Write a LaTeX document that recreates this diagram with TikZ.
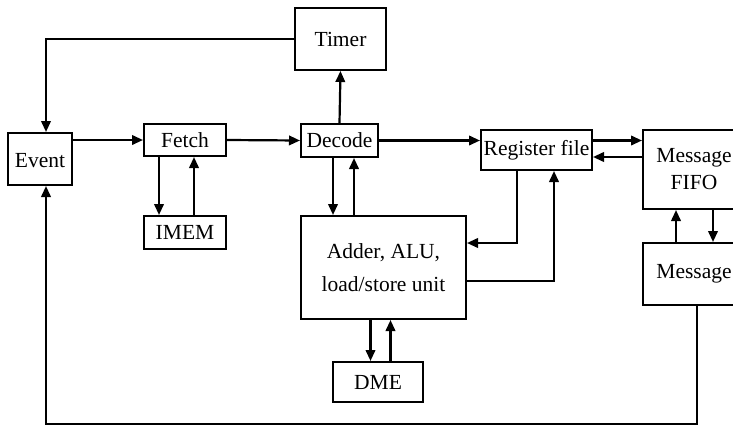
\documentclass[tikz,border=0pt]{standalone}
\usepackage{fontspec}
\setmainfont{Liberation Serif}
\usetikzlibrary{arrows.meta}
\tikzset{
  blk/.style={draw, line width=2pt, inner sep=0pt, align=center,
    font=\fontsize{21.5}{26}\selectfont},
  arr/.style={line width=2.2pt, -{Triangle[length=11pt,width=9.5pt]}},
  wire/.style={line width=2.2pt}
}
\begin{document}
\begin{tikzpicture}[x=1pt,y=-1pt]
\clip (0,0) rectangle (733,426);
\fill[white] (0,0) rectangle (733,426);

% blocks
\node[blk, minimum width=91pt, minimum height=62pt] (timer) at (340.5,39) {Timer};
\node[blk, minimum width=64pt, minimum height=52pt, text depth=0pt] (event) at (40,159) {\raisebox{-3pt}{Event}};
\node[blk, minimum width=82pt, minimum height=32pt] (fetch) at (185,140) {Fetch};
\node[blk, minimum width=77pt, minimum height=33pt] (decode) at (339.5,140.5) {Decode};
\node[blk, minimum width=82pt, minimum height=33pt] (imem) at (185,232.5) {IMEM};
\node[blk, minimum width=165pt, minimum height=103pt, font=\fontsize{21.5}{33}\selectfont] (adder) at (383.5,267.5) {Adder, ALU,\\load/store unit};
\node[blk, minimum width=90pt, minimum height=40pt] (dme) at (378,382) {DME};
\node[blk, minimum width=111pt, minimum height=40pt] (reg) at (536.5,150) {Register file};
\node[blk, minimum width=102pt, minimum height=79pt, font=\fontsize{21.5}{27}\selectfont] (fifo) at (694,169.5) {Message\\FIFO};
\node[blk, minimum width=102pt, minimum height=62pt] (msg) at (694,274) {Message};

% timer feeds back into the event block
\draw[arr] (timer.west) -| ([xshift=6pt]event.north);

% main pipeline
\draw[arr] (event.east |- fetch) -- (fetch.west);
\draw[arr] (fetch.east) -- (decode.west);
\draw[arr] (decode.north) -- (timer.south);
\draw[arr] (decode.east) -- (decode.east -| reg.west);

% instruction memory
\draw[arr] ([xshift=-26pt]fetch.south) -- ([xshift=-26pt]imem.north);
\draw[arr] ([xshift=9pt]imem.north) -- ([xshift=9pt]fetch.south);

% execution unit
\draw[arr] ([xshift=-6.5pt]decode.south) -- ([xshift=-6.5pt]decode.south |- adder.north);
\draw[arr] ([xshift=14.5pt]decode.south |- adder.north) -- ([xshift=14.5pt]decode.south);
\draw[arr] ([xshift=-13pt]adder.south) -- ([xshift=-13pt]adder.south |- dme.north);
\draw[arr] ([xshift=7pt]adder.south |- dme.north) -- ([xshift=7pt]adder.south);

% register file links
\draw[arr] ([xshift=-19.5pt]reg.south) |- ([yshift=24.5pt]adder.east);
\draw[arr] ([yshift=-13.5pt]adder.east) -| ([xshift=17.5pt]reg.south);
\draw[arr] (reg.east |- decode) -- (fifo.west |- decode);
\path ([yshift=-7pt]reg.east) coordinate (rin);
\draw[arr] (fifo.west |- rin) -- (rin);

% message path
\draw[arr] ([xshift=-18pt]msg.north) -- ([xshift=-18pt]fifo.south);
\draw[arr] ([xshift=19pt]fifo.south) -- ([xshift=19pt]msg.north);
\draw[arr] ([xshift=3pt]msg.south) -- ++(0,118) -| ([xshift=6pt]event.south);
\end{tikzpicture}
\end{document}
